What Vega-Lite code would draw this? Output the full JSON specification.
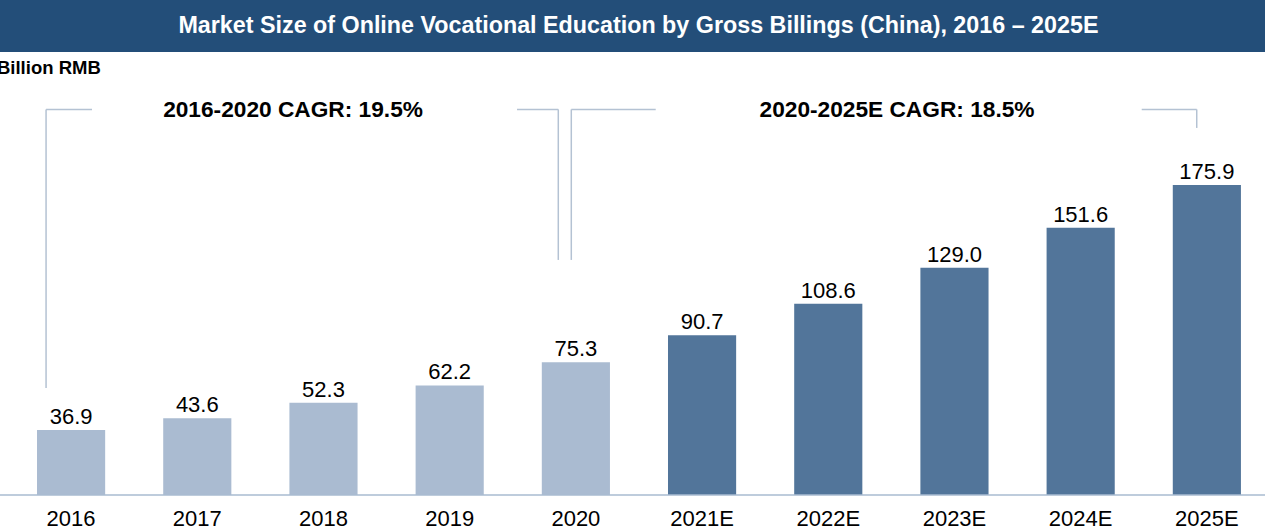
{
  "$schema": "https://vega.github.io/schema/vega-lite/v6.json",
  "autosize": {"type": "none"},
  "padding": 0,
  "width": 1265,
  "height": 530,
  "background": "white",
  "config": {
    "font": "Liberation Sans",
    "view": {"stroke": null}
  },
  "layer": [
    {
      "data": {"values": [{"x": -0.563, "x2": 9.461, "y": 251.4, "y2": 280.9, "title": "Market Size of Online Vocational Education by Gross Billings (China), 2016 – 2025E", "tx": 4.496, "ty": 266.2}]},
      "layer": [
        {
          "mark": {"type": "rect", "color": "#234E79"},
          "encoding": {
            "x": {"field": "x", "type": "quantitative", "scale": {"domain": [-0.563, 9.461], "nice": false, "zero": false}, "axis": null},
            "x2": {"field": "x2"},
            "y": {"field": "y", "type": "quantitative", "scale": {"domain": [-19.86, 280.9], "nice": false, "zero": false}, "axis": null},
            "y2": {"field": "y2"}
          }
        },
        {
          "mark": {"type": "text", "color": "white", "fontWeight": "bold", "fontSize": 23.3, "font": "Liberation Sans", "baseline": "middle", "align": "center"},
          "encoding": {
            "x": {"field": "tx", "type": "quantitative", "scale": {"domain": [-0.563, 9.461], "nice": false, "zero": false}, "axis": null},
            "y": {"field": "ty", "type": "quantitative", "scale": {"domain": [-19.86, 280.9], "nice": false, "zero": false}, "axis": null},
            "text": {"field": "title"}
          }
        }
      ]
    },
    {
      "data": {"values": [
        {"year": "2016", "value": 36.9, "type": "Actual", "labelY": -13.6},
        {"year": "2017", "value": 43.6, "type": "Actual", "labelY": -13.6},
        {"year": "2018", "value": 52.3, "type": "Actual", "labelY": -13.6},
        {"year": "2019", "value": 62.2, "type": "Actual", "labelY": -13.6},
        {"year": "2020", "value": 75.3, "type": "Actual", "labelY": -13.6},
        {"year": "2021E", "value": 90.7, "type": "Estimate", "labelY": -13.6},
        {"year": "2022E", "value": 108.6, "type": "Estimate", "labelY": -13.6},
        {"year": "2023E", "value": 129.0, "type": "Estimate", "labelY": -13.6},
        {"year": "2024E", "value": 151.6, "type": "Estimate", "labelY": -13.6},
        {"year": "2025E", "value": 175.9, "type": "Estimate", "labelY": -13.6}
      ]},
      "encoding": {
        "x": {"field": "year", "type": "nominal", "sort": null,
          "scale": {"paddingInner": 0.46, "paddingOuter": 0.242, "align": 0.606},
          "axis": null}
      },
      "layer": [
        {
          "mark": {"type": "bar"},
          "encoding": {
            "y": {"field": "value", "type": "quantitative", "scale": {"domain": [-19.86, 280.9], "nice": false, "zero": false}, "axis": null},
            "y2": {"datum": 0},
            "color": {"field": "type", "type": "nominal", "scale": {"domain": ["Actual", "Estimate"], "range": ["#AABBD1", "#52759A"]}, "legend": null}
          }
        },
        {
          "mark": {"type": "text", "fontSize": 22, "baseline": "alphabetic", "dy": -6, "color": "#000000", "font": "Liberation Sans"},
          "encoding": {
            "y": {"field": "value", "type": "quantitative", "scale": {"domain": [-19.86, 280.9], "nice": false, "zero": false}, "axis": null},
            "text": {"field": "value", "type": "quantitative", "format": ".1f"}
          }
        },
        {
          "mark": {"type": "text", "fontSize": 22, "baseline": "middle", "color": "#000000", "font": "Liberation Sans"},
          "encoding": {
            "y": {"field": "labelY", "type": "quantitative", "scale": {"domain": [-19.86, 280.9], "nice": false, "zero": false}, "axis": null},
            "text": {"field": "year"}
          }
        }
      ]
    },
    {
      "data": {"values": [{"base": 0}]},
      "mark": {"type": "rule", "color": "#A9BBD1", "strokeWidth": 1.5},
      "encoding": {
        "y": {"field": "base", "type": "quantitative", "scale": {"domain": [-19.86, 280.9], "nice": false, "zero": false}, "axis": null}
      }
    },
    {
      "data": {"values": [
        {"x": -0.198, "x2": -0.198, "y": 60.7, "y2": 218.8},
        {"x": -0.198, "x2": 0.166, "y": 218.8, "y2": 218.8},
        {"x": 3.534, "x2": 3.861, "y": 218.8, "y2": 218.8},
        {"x": 3.861, "x2": 3.861, "y": 218.8, "y2": 133.4},
        {"x": 3.964, "x2": 3.964, "y": 133.4, "y2": 218.8},
        {"x": 3.964, "x2": 4.633, "y": 218.8, "y2": 218.8},
        {"x": 8.484, "x2": 8.920, "y": 218.8, "y2": 218.8},
        {"x": 8.920, "x2": 8.920, "y": 218.8, "y2": 208.3}
      ]},
      "mark": {"type": "rule", "color": "#B4C2D3", "strokeWidth": 1.5},
      "encoding": {
        "x": {"field": "x", "type": "quantitative", "scale": {"domain": [-0.563, 9.461], "nice": false, "zero": false}, "axis": null},
        "x2": {"field": "x2"},
        "y": {"field": "y", "type": "quantitative", "scale": {"domain": [-19.86, 280.9], "nice": false, "zero": false}, "axis": null},
        "y2": {"field": "y2"}
      }
    },
    {
      "data": {"values": [
        {"label": "2016-2020 CAGR: 19.5%", "x": 1.759, "y": 218.5},
        {"label": "2020-2025E CAGR: 18.5%", "x": 6.545, "y": 218.5}
      ]},
      "mark": {"type": "text", "fontSize": 22.7, "fontWeight": "bold", "baseline": "middle", "align": "center", "color": "#000000", "font": "Liberation Sans"},
      "encoding": {
        "x": {"field": "x", "type": "quantitative", "scale": {"domain": [-0.563, 9.461], "nice": false, "zero": false}, "axis": null},
        "y": {"field": "y", "type": "quantitative", "scale": {"domain": [-19.86, 280.9], "nice": false, "zero": false}, "axis": null},
        "text": {"field": "label"}
      }
    },
    {
      "data": {"values": [{"label": "Billion RMB", "x": -0.587, "y": 242.3}]},
      "mark": {"type": "text", "fontSize": 18.5, "fontWeight": "bold", "baseline": "middle", "align": "left", "color": "#000000", "font": "Liberation Sans"},
      "encoding": {
        "x": {"field": "x", "type": "quantitative", "scale": {"domain": [-0.563, 9.461], "nice": false, "zero": false}, "axis": null},
        "y": {"field": "y", "type": "quantitative", "scale": {"domain": [-19.86, 280.9], "nice": false, "zero": false}, "axis": null},
        "text": {"field": "label"}
      }
    }
  ],
  "resolve": {"scale": {"x": "independent"}}
}
